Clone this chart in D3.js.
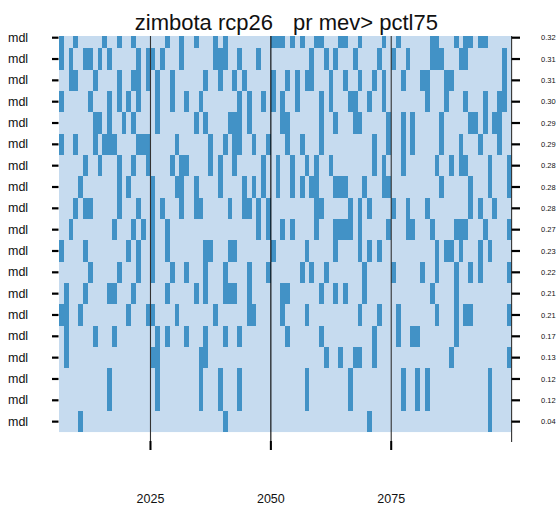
<!DOCTYPE html>
<html><head><meta charset="utf-8">
<script src="https://cdn.jsdelivr.net/npm/d3@7"></script>
<style>
body{margin:0;background:#fff}
svg{display:block}
text{font-family:"Liberation Sans",Arial,Helvetica,sans-serif;fill:#111}
</style>
</head><body>
<svg id="chart" width="558" height="510"></svg>
<script>
// ---------------- data ----------------
const titleLeft = "zimbota rcp26";
const titleRight = "pr mev> pctl75";
const years = d3.range(2006, 2100);           // one column per year, 2006..2099
const xTickYears = [2025, 2050, 2075];
const rowLabels = ["mdl","mdl","mdl","mdl","mdl","mdl","mdl","mdl","mdl","mdl",
                   "mdl","mdl","mdl","mdl","mdl","mdl","mdl","mdl","mdl"];
const fractionLabels = ["0.32","0.31","0.31","0.30","0.29","0.29","0.28","0.28","0.28","0.27",
                        "0.23","0.22","0.21","0.21","0.17","0.13","0.12","0.12","0.04"];
// years in which each model exceeds the threshold (dark cells)
const exceedYears = [
  [2006,2009,2015,2018,2021,2028,2031,2034,2038,2040,2050,2051,2052,2054,2056,2059,2060,2064,2065,2068,2073,2076,2083,2084,2088,2090,2091,2093,2094],
  [2006,2008,2011,2012,2014,2016,2022,2024,2025,2027,2031,2038,2039,2040,2043,2047,2058,2061,2063,2067,2072,2075,2078,2083,2084,2085,2089,2090,2098],
  [2008,2009,2013,2018,2021,2022,2024,2026,2029,2036,2039,2042,2044,2050,2053,2055,2057,2058,2062,2065,2068,2071,2073,2077,2081,2082,2086,2087,2098],
  [2006,2012,2016,2018,2020,2022,2026,2029,2032,2035,2043,2045,2048,2050,2052,2055,2060,2062,2066,2067,2070,2073,2082,2086,2090,2094,2097,2098],
  [2013,2014,2016,2019,2021,2026,2034,2036,2041,2042,2043,2045,2052,2053,2060,2063,2067,2068,2074,2077,2079,2085,2091,2092,2094,2096,2097],
  [2006,2009,2013,2015,2016,2017,2022,2023,2024,2030,2037,2040,2042,2043,2046,2049,2053,2056,2060,2071,2074,2077,2079,2085,2089,2093,2097],
  [2011,2014,2018,2021,2024,2029,2031,2032,2037,2039,2042,2048,2051,2054,2057,2059,2062,2071,2073,2077,2084,2087,2089,2090,2095,2099],
  [2010,2018,2020,2025,2030,2031,2034,2039,2044,2046,2048,2051,2054,2056,2058,2059,2063,2064,2065,2069,2073,2074,2085,2091,2095,2099],
  [2009,2011,2012,2018,2022,2025,2027,2031,2034,2035,2041,2044,2045,2047,2049,2059,2060,2066,2068,2070,2075,2078,2082,2091,2093,2096],
  [2008,2017,2021,2023,2025,2028,2047,2049,2052,2054,2059,2063,2064,2065,2066,2068,2074,2078,2079,2083,2088,2089,2090,2094,2099],
  [2006,2011,2020,2022,2025,2028,2036,2037,2041,2042,2050,2057,2063,2068,2070,2072,2084,2086,2087,2089,2093,2095],
  [2012,2018,2022,2025,2029,2032,2036,2040,2045,2049,2056,2058,2061,2069,2075,2081,2084,2088,2091,2093,2099],
  [2007,2011,2016,2017,2021,2028,2034,2036,2040,2041,2042,2045,2052,2053,2060,2063,2065,2069,2083,2088],
  [2006,2007,2010,2020,2024,2025,2030,2038,2045,2046,2052,2057,2068,2072,2076,2084,2088,2090,2091,2099],
  [2007,2013,2017,2026,2028,2032,2036,2040,2043,2053,2060,2071,2076,2079,2080,2088],
  [2007,2025,2026,2035,2036,2061,2064,2067,2068,2071,2087,2099],
  [2016,2026,2035,2039,2043,2057,2066,2077,2080,2082,2095],
  [2016,2026,2035,2039,2043,2057,2066,2077,2080,2082,2095],
  [2010,2040,2070,2095]
];

// ---------------- layout ----------------
const svg = d3.select("#chart");
const plotTop = 36, plotBottom = 432.3, plotLeft = 59, plotRight = 511.6;
const rowH = 21.33;
const lightCol = "#c6dbef", darkCol = "#4292c6";

const x = d3.scaleLinear().domain([2006, 2100]).range([plotLeft, plotRight]);
const y = d3.scaleBand().domain(d3.range(rowLabels.length))
  .range([plotBottom - rowH * rowLabels.length, plotBottom]).padding(0);

svg.append("defs").append("clipPath").attr("id", "clip")
  .append("rect").attr("x", plotLeft).attr("y", plotTop)
  .attr("width", plotRight - plotLeft).attr("height", plotBottom - plotTop);

const g = svg.append("g").attr("clip-path", "url(#clip)");
g.append("rect").attr("x", x(2006)).attr("y", y(0))
  .attr("width", x(2100) - x(2006)).attr("height", y.bandwidth() * rowLabels.length)
  .attr("fill", lightCol);

const cells = [];
exceedYears.forEach((ys, r) => ys.forEach(yr => cells.push({r, yr})));
g.selectAll("rect.cell").data(cells).join("rect")
  .attr("class", "cell")
  .attr("x", d => x(d.yr))
  .attr("width", d => x(d.yr + 1) - x(d.yr))
  .attr("y", d => y(d.r))
  .attr("height", y.bandwidth())
  .attr("fill", darkCol)
  .attr("shape-rendering", "crispEdges");

// vertical reference lines + bottom ticks
svg.selectAll("line.vline").data(xTickYears).join("line")
  .attr("class", "vline")
  .attr("x1", d => x(d)).attr("x2", d => x(d))
  .attr("y1", plotTop).attr("y2", 450)
  .attr("stroke", (d, i) => i === 1 ? "#000" : "#333").attr("stroke-width", 1.1);
svg.selectAll("line.btick").data(xTickYears).join("line")
  .attr("class", "btick")
  .attr("x1", d => x(d)).attr("x2", d => x(d))
  .attr("y1", 441).attr("y2", 450)
  .attr("stroke", "#000").attr("stroke-width", 2);
svg.selectAll("text.xlab").data(xTickYears).join("text")
  .attr("class", "xlab")
  .attr("x", d => x(d)).attr("y", 503)
  .attr("text-anchor", "middle").attr("font-size", "12.5px")
  .text(d => d);

// right axis line
svg.append("line").attr("x1", plotRight).attr("x2", plotRight)
  .attr("y1", plotTop).attr("y2", 442).attr("stroke", "#333").attr("stroke-width", 1.1);

const rowCenter = r => y(r) + y.bandwidth() / 2;

// left ticks + labels
svg.selectAll("line.ltick").data(rowLabels).join("line")
  .attr("class", "ltick")
  .attr("x1", 52).attr("x2", 58.5)
  .attr("y1", (d, i) => rowCenter(i)).attr("y2", (d, i) => rowCenter(i))
  .attr("stroke", "#000").attr("stroke-width", 2.2);
svg.selectAll("text.ylab").data(rowLabels).join("text")
  .attr("class", "ylab")
  .attr("x", 8).attr("y", (d, i) => rowCenter(i)).attr("dy", "0.33em")
  .attr("font-size", "12.5px")
  .text(d => d);

// right ticks + fraction labels
svg.selectAll("line.rtick").data(fractionLabels).join("line")
  .attr("class", "rtick")
  .attr("x1", plotRight).attr("x2", 520)
  .attr("y1", (d, i) => rowCenter(i)).attr("y2", (d, i) => rowCenter(i))
  .attr("stroke", "#000").attr("stroke-width", 2.2);
svg.selectAll("text.rlab").data(fractionLabels).join("text")
  .attr("class", "rlab")
  .attr("x", 541).attr("y", (d, i) => rowCenter(i)).attr("dy", "0.35em")
  .attr("font-size", "7.5px")
  .text(d => d);

// title
svg.append("text").attr("x", 273).attr("y", 30).attr("text-anchor", "end")
  .attr("font-size", "22px").text(titleLeft);
svg.append("text").attr("x", 293).attr("y", 30).attr("text-anchor", "start")
  .attr("font-size", "22px").text(titleRight);
</script>
</body></html>
